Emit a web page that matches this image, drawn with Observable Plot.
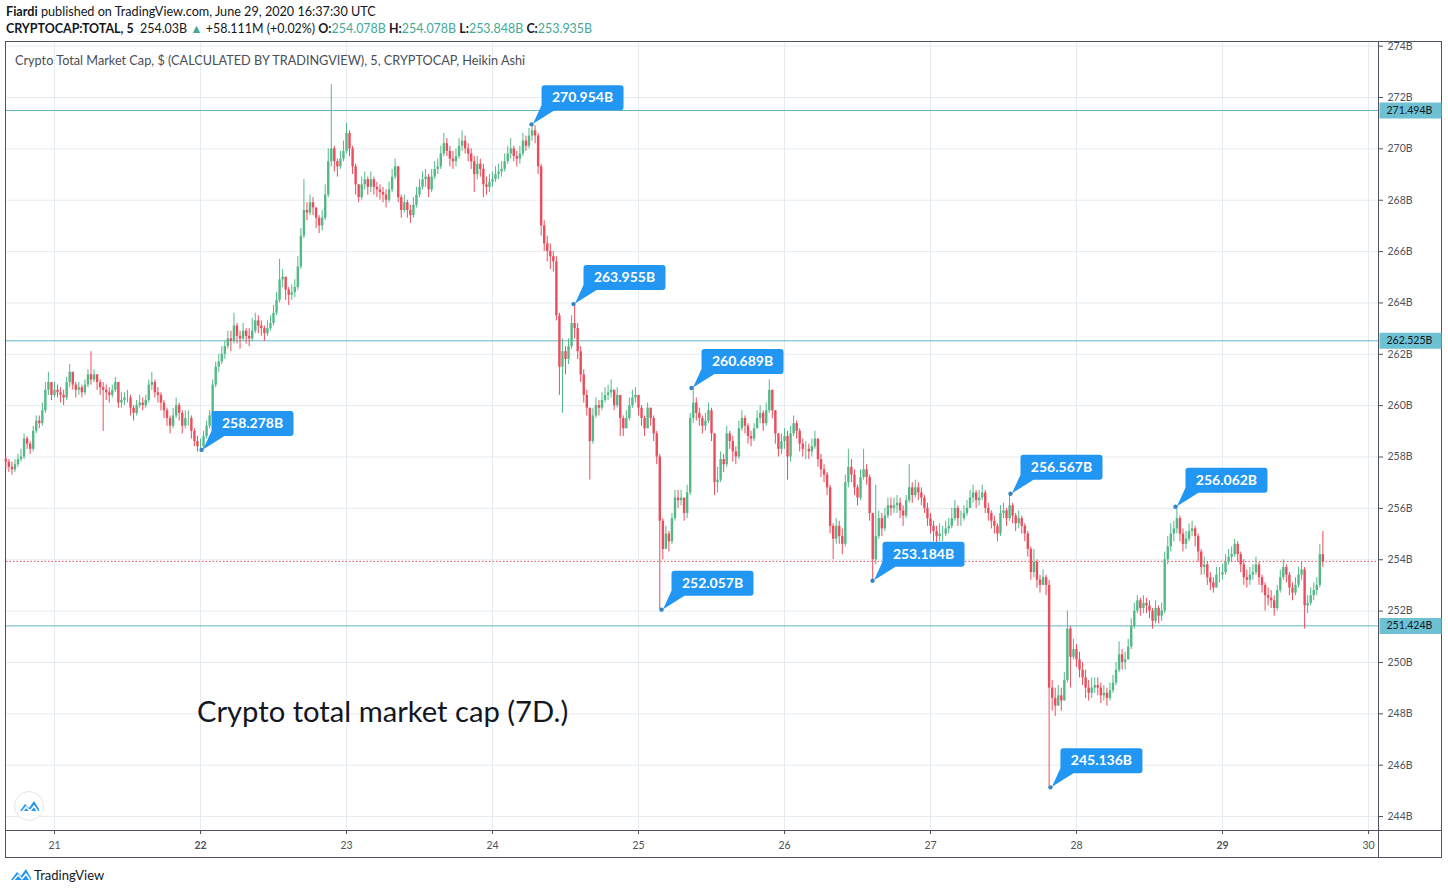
<!DOCTYPE html>
<html><head><meta charset="utf-8">
<script src="https://cdn.jsdelivr.net/npm/d3@7"></script>
<script src="https://cdn.jsdelivr.net/npm/@observablehq/plot@0.6"></script>
<style>
html,body{margin:0;padding:0;background:#fff;}
body{width:1448px;height:894px;overflow:hidden;position:relative;font-family:Lato,"Noto Sans",sans-serif;color:#131722;}
.abs{position:absolute;white-space:nowrap;}
#h1{left:6px;top:5px;font-size:12.65px;line-height:14px;}
#h2{left:6px;top:22px;font-size:12.45px;line-height:14px;}
.g{color:#3fa99a;}
#frame{position:absolute;left:5px;top:41px;width:1437px;height:817px;box-sizing:border-box;border:1px solid #50535e;}
#chart{position:absolute;left:6px;top:42px;}
#sepV{position:absolute;left:1378px;top:42px;width:1px;height:815px;background:#50535e;}
#sepH{position:absolute;left:6px;top:830px;width:1435px;height:1px;background:#50535e;}
#legend{left:15px;top:53px;font-size:12.7px;line-height:14px;color:#4a4e57;}
#note{left:197px;top:693px;font-size:29.2px;line-height:35px;color:#131722;}
#footer{left:34px;top:867px;font-size:13px;line-height:16px;color:#131722;}
#logoCircle{position:absolute;left:14px;top:791px;width:30px;height:30px;border-radius:50%;border:1px solid #e3e6ec;background:#fff;box-sizing:border-box;}
</style></head>
<body>
<div id="h1" class="abs"><b>Fiardi</b> published on TradingView.com, June 29, 2020 16:37:30 UTC</div>
<div id="h2" class="abs"><b>CRYPTOCAP:TOTAL, 5</b>&nbsp; 254.03B <span class="g">▲</span> +58.111M (+0.02%) <b>O:</b><span class="g">254.078B</span> <b>H:</b><span class="g">254.078B</span> <b>L:</b><span class="g">253.848B</span> <b>C:</b><span class="g">253.935B</span></div>
<div id="frame"></div>
<div id="chart"></div>
<div id="sepV"></div>
<div id="sepH"></div>
<div id="legend" class="abs">Crypto Total Market Cap, $ (CALCULATED BY TRADINGVIEW), 5, CRYPTOCAP, Heikin Ashi</div>
<div id="note" class="abs">Crypto total market cap (7D.)</div>
<div id="logoCircle"><svg width="28" height="28" viewBox="0 0 28 28"><path d="M5 19 L10 12 L14 16 L19 9 L24 17 L24 19 Z" fill="#2196f3"/><path d="M7 20 L11 15 L15 19 L19 14 L23 20" fill="none" stroke="#fff" stroke-width="1.6"/></svg></div>
<svg class="abs" style="left:10px;top:866px" width="22" height="16" viewBox="0 0 22 16"><path d="M1 14 L7 6 L11 10 L16 3 L21 12 L21 14 Z" fill="#2196f3"/><path d="M3 15 L8 9 L12 13 L16 8 L20 14" fill="none" stroke="#fff" stroke-width="1.5"/></svg>
<div id="footer" class="abs">TradingView</div>
<script>
// ---- data: 30-minute Heikin Ashi candles, June 20 16:00 UTC .. June 29 16:30 UTC (values in billions $)
const closeB = [
257.8,257.6,257.5,257.7,257.9,258.0,258.7,258.5,258.3,259.0,259.4,259.3,259.8,260.6,260.9,260.4,
260.6,260.5,260.4,260.3,260.9,261.3,260.8,260.6,260.7,260.5,260.8,261.2,261.0,261.2,260.9,260.7,
260.6,260.5,260.4,260.6,260.9,260.1,260.2,260.3,260.3,259.9,259.7,260.0,260.1,260.0,260.2,260.8,
260.9,260.5,260.4,260.1,259.8,259.5,259.2,259.6,260.0,259.7,259.2,259.5,259.5,259.0,258.6,258.4,
258.4,258.8,259.2,259.6,260.8,261.5,261.7,262.0,262.3,262.6,262.5,263.1,262.7,262.6,262.9,262.7,
262.6,262.9,263.3,263.1,263.0,262.8,263.0,263.2,263.6,264.1,264.9,265.0,264.5,264.3,264.4,264.6,
265.4,266.6,267.6,267.5,267.9,267.7,267.3,267.0,267.3,268.2,269.5,270.0,269.5,269.3,269.6,269.9,
270.6,270.0,269.3,268.6,268.1,268.6,268.8,268.5,268.8,268.5,268.4,268.3,268.2,268.0,268.4,268.9,
269.3,268.1,267.6,267.9,267.6,267.4,267.8,268.2,268.5,268.8,268.9,268.4,268.9,269.2,269.3,269.8,
270.2,269.9,269.6,269.5,269.7,270.1,270.3,270.0,269.8,269.5,269.0,269.4,269.2,268.6,268.5,268.7,
268.8,269.0,269.1,269.2,269.5,269.8,270.0,269.7,269.6,269.8,270.3,270.1,270.5,270.7,270.5,269.3,
267.0,266.3,266.0,265.8,265.6,263.5,261.5,262.1,261.8,262.3,263.2,263.0,262.1,261.2,260.4,259.9,
258.6,259.6,260.0,259.9,260.2,260.4,260.5,260.6,260.0,260.4,259.5,259.1,259.5,260.0,260.3,260.4,
259.9,259.5,259.1,259.9,259.5,258.9,258.0,255.5,254.4,255.0,254.7,255.6,256.4,256.3,256.4,255.8,
256.6,259.5,260.1,259.7,259.5,259.2,259.4,259.8,258.9,257.0,257.1,257.9,257.7,258.9,258.6,258.2,
258.0,259.1,259.5,259.2,258.8,258.7,259.1,259.5,259.7,259.3,259.8,260.6,259.8,258.9,258.3,258.6,
258.8,258.0,258.9,259.3,259.0,258.5,258.3,258.3,258.2,258.4,258.7,257.9,257.5,257.3,256.8,255.3,
254.8,255.3,254.9,254.6,257.0,257.6,257.3,256.8,256.4,257.2,257.5,257.2,255.8,254.0,254.9,255.6,
255.2,255.7,256.1,256.0,256.1,256.2,255.9,255.7,256.3,256.8,256.5,256.8,256.6,256.4,256.0,255.6,
255.3,255.1,254.9,255.0,255.0,255.2,255.3,255.6,256.0,255.6,255.6,255.8,256.0,256.4,256.6,256.3,
256.4,256.6,256.0,255.8,255.5,255.3,255.0,255.8,255.9,255.6,256.1,255.7,255.4,255.6,255.3,255.0,
254.4,253.5,253.9,253.2,253.0,253.3,253.0,249.0,248.6,248.3,248.7,248.5,249.3,251.3,250.2,250.5,
250.1,249.7,249.4,249.0,248.8,249.0,249.1,249.0,248.7,248.8,248.6,248.9,249.2,249.7,250.3,250.0,
250.1,250.6,251.4,252.0,252.4,252.1,252.3,252.2,252.0,251.6,252.1,251.8,252.0,254.0,254.5,255.0,
255.2,255.6,255.0,254.6,254.8,255.1,255.2,254.9,254.3,253.7,253.8,253.3,253.1,252.9,253.4,253.4,
253.5,253.9,254.1,254.2,254.6,254.2,253.8,253.3,253.2,253.4,253.5,253.8,253.3,253.0,252.6,252.5,
252.4,252.1,252.8,253.3,253.7,253.4,252.9,252.7,253.0,253.4,253.6,252.2,252.3,252.6,252.8,253.0,254.2,253.9
];
const highB = [
258.0,257.9,257.8,257.9,258.1,258.3,258.9,258.8,258.6,259.2,259.6,259.6,260.1,260.9,261.3,260.9,
260.9,260.8,260.7,260.6,261.1,261.6,261.3,260.9,260.9,260.8,261.0,261.4,262.1,261.4,261.2,261.0,
260.9,260.8,260.7,260.8,261.1,260.9,260.5,260.5,260.6,260.4,260.0,260.2,260.4,260.3,260.4,261.0,
261.3,261.0,260.7,260.5,260.2,259.9,259.6,259.9,260.3,260.1,259.8,259.8,259.8,259.6,259.1,258.8,
258.7,259.0,259.4,259.8,261.0,261.7,262.0,262.3,262.5,262.9,262.9,263.6,263.2,262.9,263.2,263.0,
263.0,263.4,263.6,263.5,263.3,263.1,263.3,263.5,263.9,264.4,265.7,265.3,265.0,264.6,264.7,264.9,
265.8,266.9,268.8,267.9,268.2,268.1,267.7,267.4,267.6,268.6,270.0,272.5,270.1,269.6,269.9,270.3,
271.0,270.7,270.1,269.4,268.6,268.9,269.1,268.9,269.1,268.9,268.7,268.6,268.5,268.4,268.7,269.2,
269.6,269.3,268.2,268.2,268.0,267.8,268.1,268.5,268.8,269.1,269.2,269.0,269.2,269.5,269.6,270.1,
270.6,270.4,270.1,269.9,270.0,270.4,270.7,270.5,270.2,270.0,269.7,269.7,269.6,269.4,268.9,269.0,
269.1,269.3,269.4,269.5,269.8,270.1,270.4,270.1,269.9,270.1,270.6,270.5,270.8,270.95,270.9,270.6,
269.4,267.2,266.6,266.3,266.0,265.8,263.6,262.6,262.3,262.6,263.5,263.96,263.2,262.3,261.4,260.6,
259.9,259.9,260.3,260.2,260.5,260.7,260.8,261.0,260.6,260.7,260.4,259.6,259.8,260.3,260.6,260.7,
260.4,260.0,259.6,260.1,259.9,259.6,259.0,258.1,255.6,255.3,255.1,255.8,256.7,256.7,256.7,256.4,
256.9,259.7,260.69,260.3,259.9,259.6,259.7,260.1,259.9,258.9,257.6,258.2,258.1,259.2,259.0,258.8,
258.4,259.4,259.8,259.6,259.3,259.0,259.3,259.8,260.0,259.8,260.1,261.0,260.6,259.8,258.9,258.9,
259.1,259.0,259.2,259.6,259.4,259.1,258.7,258.6,258.5,258.7,259.0,258.6,258.1,257.7,257.4,256.9,
255.4,255.6,255.5,255.2,257.3,258.3,257.9,257.5,256.9,257.5,258.3,257.7,257.3,255.8,256.9,255.9,
255.8,256.0,256.4,256.4,256.4,256.5,256.4,256.1,256.5,257.7,257.0,257.1,257.0,256.8,256.5,256.2,
255.8,255.5,255.3,255.4,255.3,255.5,255.6,256.0,256.3,256.1,255.9,256.1,256.3,256.7,256.9,256.7,
256.7,256.9,256.7,256.2,255.9,255.7,255.4,256.1,256.2,256.0,256.57,256.2,255.8,255.9,255.7,255.4,
255.1,254.5,254.4,254.0,253.4,253.6,253.4,253.2,249.3,249.0,249.1,249.0,249.6,252.0,251.4,250.9,
250.7,250.4,250.0,249.7,249.3,249.4,249.4,249.4,249.2,249.1,249.0,249.2,249.5,250.0,250.8,250.5,
250.4,250.9,251.7,252.3,252.6,252.5,252.6,252.5,252.4,252.1,252.4,252.2,252.3,254.3,254.9,255.4,
255.5,256.06,255.7,255.2,255.1,255.4,255.5,255.3,255.0,254.4,254.1,253.9,253.5,253.3,253.7,253.7,
253.8,254.2,254.4,254.5,254.8,254.7,254.3,254.0,253.6,253.7,253.8,254.1,253.9,253.4,253.1,252.9,
252.8,252.6,253.0,253.6,254.0,253.8,253.5,253.1,253.3,253.7,253.9,253.7,252.6,252.9,253.1,253.3,254.6,255.1
];
const lowB = [
257.5,257.4,257.3,257.4,257.6,257.8,257.9,258.3,258.1,258.2,258.9,259.1,259.2,259.7,260.4,260.2,
260.3,260.3,260.1,260.0,260.2,260.7,260.6,260.3,260.4,260.3,260.4,260.7,260.8,260.9,260.6,260.4,
259.0,260.2,260.1,260.3,260.5,259.9,259.9,260.0,260.1,259.6,259.4,259.6,259.9,259.8,259.9,260.1,
260.6,260.3,260.1,259.8,259.5,259.2,258.9,259.1,259.5,259.4,258.9,259.1,259.2,258.7,258.4,258.2,
258.28,258.3,258.7,259.1,259.5,260.7,261.3,261.6,261.8,262.2,262.1,262.4,262.4,262.2,262.5,262.4,
262.3,262.5,262.8,262.8,262.7,262.5,262.7,262.9,263.1,263.5,264.0,264.6,264.1,263.9,264.1,264.2,
264.5,265.3,266.5,267.2,267.4,267.4,266.9,266.7,266.8,267.2,268.1,269.3,269.1,268.9,269.2,269.5,
269.8,269.7,269.0,268.2,267.9,268.0,268.4,268.2,268.3,268.2,268.1,268.0,267.9,267.7,267.9,268.3,
268.8,267.9,267.3,267.5,267.3,267.1,267.3,267.7,268.1,268.4,268.5,268.1,268.3,268.8,269.0,269.2,
269.7,269.7,269.3,269.2,269.3,269.6,269.9,269.8,269.5,269.2,268.3,268.8,268.9,268.1,268.2,268.3,
268.5,268.7,268.8,268.9,269.1,269.4,269.6,269.5,269.3,269.4,269.7,269.9,270.0,270.3,270.2,269.0,
266.6,266.0,265.6,265.3,265.2,263.3,260.4,259.7,261.2,261.6,262.2,262.6,261.8,260.9,260.1,259.6,
257.1,258.5,259.5,259.6,259.8,260.1,260.2,260.3,259.8,259.9,258.8,258.8,259.1,259.4,259.9,260.1,
259.6,259.2,258.8,259.1,259.2,258.6,257.7,252.06,254.0,254.4,254.3,254.6,255.5,256.0,256.1,255.5,
255.6,256.5,259.3,259.4,259.2,258.9,259.0,259.3,258.6,256.5,256.6,257.0,257.4,257.6,258.3,257.8,
257.7,257.9,259.0,258.9,258.5,258.4,258.6,259.1,259.3,259.0,259.2,259.7,259.5,258.5,258.0,258.1,
258.3,257.1,257.8,258.8,258.7,258.2,258.0,257.9,257.9,258.0,258.3,257.6,257.2,257.0,256.5,255.0,
254.0,254.6,254.6,254.2,254.5,256.8,257.0,256.5,256.1,256.3,257.1,256.9,255.5,253.18,253.8,254.8,
254.9,255.1,255.6,255.7,255.8,255.8,255.6,255.3,255.6,256.2,256.2,256.4,256.3,256.1,255.8,255.3,
255.0,254.7,254.6,254.7,254.7,254.9,255.0,255.2,255.5,255.3,255.3,255.5,255.7,256.0,256.2,256.0,
256.1,256.3,255.8,255.5,255.2,255.0,254.7,254.9,255.6,255.3,255.5,255.4,255.1,255.2,255.0,254.7,
254.1,253.2,253.3,252.9,252.7,253.0,252.6,245.14,248.1,247.9,248.3,248.1,248.8,249.2,249.0,250.1,
249.8,249.4,249.1,248.6,248.5,248.6,248.8,248.7,248.4,248.5,248.3,248.5,248.8,249.1,249.6,249.7,
249.7,250.1,250.5,251.3,251.9,251.8,251.9,251.9,251.7,251.3,251.5,251.5,251.6,251.9,253.8,254.3,
254.7,255.0,254.7,254.3,254.4,254.7,254.9,254.5,253.9,253.4,253.4,253.0,252.8,252.7,252.9,253.1,
253.2,253.4,253.8,253.9,254.1,253.9,253.5,253.0,252.9,253.0,253.2,253.4,253.0,252.7,252.0,252.2,
252.1,251.8,252.0,252.7,253.2,253.1,252.6,252.4,252.6,252.9,253.2,251.3,251.9,252.2,252.4,252.6,252.9,253.7
];
const firstOpen = 257.9;

// axis ticks / labels
const dayLabels = ["21","22","23","24","25","26","27","28","29","30"];
const boldDayLabels = ["22","29"]; // week starts, shown bold
const priceTicks = [244,246,248,250,252,254,256,258,260,262,264,266,268,270,272,274];

// horizontal levels, last price
const levelValues = [271.494, 262.525, 251.424];
const levelLabels = ["271.494B", "262.525B", "251.424B"];
const lastPrice = 253.935;

// callouts (price marks)
const calloutTimes = ["2020-06-22T00:10Z","2020-06-24T06:25Z","2020-06-24T13:19Z","2020-06-25T03:47Z","2020-06-25T08:43Z","2020-06-26T14:28Z","2020-06-27T13:09Z","2020-06-27T19:43Z","2020-06-28T16:16Z"];
const calloutValues = [258.278, 270.954, 263.955, 252.057, 260.689, 253.184, 256.567, 245.136, 256.062];
const calloutLabels = ["258.278B","270.954B","263.955B","252.057B","260.689B","253.184B","256.567B","245.136B","256.062B"];

// ---- build
const DAY = 864e5;
const d21 = Date.UTC(2020, 5, 21);
const startMs = Date.UTC(2020, 5, 20, 16, 0);
const n = Math.min(closeB.length, highB.length, lowB.length);
const candles = d3.range(n).map(i => {
  const c = closeB[i], o = i ? closeB[i - 1] : firstOpen;
  return {t: new Date(startMs + i * 30 * 60e3), o, c, h: Math.max(highB[i], o, c), l: Math.min(lowB[i], o, c), up: c >= o};
});
const dayTicks = dayLabels.map((s, i) => new Date(d21 + i * DAY));
const xDomain = [new Date(d21 - 0.32877 * DAY), new Date(d21 + 9.0685 * DAY)];
const callouts = calloutTimes.map((t, i) => ({t: new Date(t), v: calloutValues[i], label: calloutLabels[i]}));
const levels = levelValues.map((v, i) => ({t: xDomain[1], v, label: levelLabels[i]}));

const GREEN = "#53b987", RED = "#eb4d5c", BLUE = "#2196f3";

const calloutSymbol = {draw(ctx) {
  const x0 = 10, y0 = -39, w = 82, h = 25, r = 3;
  ctx.moveTo(x0 + r, y0);
  ctx.lineTo(x0 + w - r, y0); ctx.arcTo(x0 + w, y0, x0 + w, y0 + r, r);
  ctx.lineTo(x0 + w, y0 + h - r); ctx.arcTo(x0 + w, y0 + h, x0 + w - r, y0 + h, r);
  ctx.lineTo(x0 + 13, y0 + h);
  ctx.lineTo(1.5, -0.5);
  ctx.lineTo(x0, y0 + h - 5);
  ctx.lineTo(x0, y0 + r); ctx.arcTo(x0, y0, x0 + r, y0, r);
  ctx.closePath();
}};
const levelSymbol = {draw(ctx) {
  ctx.moveTo(1, -8); ctx.lineTo(63, -8); ctx.lineTo(63, 8); ctx.lineTo(1, 8); ctx.closePath();
}};

const chart = Plot.plot({
  width: 1435, height: 815,
  marginLeft: 0, marginRight: 63, marginTop: 0, marginBottom: 27,
  style: {fontFamily: "Lato, 'Noto Sans', sans-serif", fontSize: "10.5px", color: "#4c525e", background: "transparent", overflow: "visible"},
  x: {type: "utc", domain: xDomain, ticks: dayTicks, tickFormat: d => dayLabels[dayTicks.findIndex(t => +t === +d)], tickSize: 4, tickPadding: 7, label: null},
  y: {domain: [243.456, 274.142], axis: "right", ticks: priceTicks, tickFormat: d => d + "B", tickSize: 4, tickPadding: 5, label: null},
  marks: [
    Plot.ruleX(dayTicks, {stroke: "#e4ecf1", strokeWidth: 1}),
    Plot.ruleY(priceTicks, {stroke: "#e4ecf1", strokeWidth: 1}),
    Plot.ruleY(levelValues, {stroke: "#62b4c6", strokeWidth: 1}),
    Plot.ruleY([lastPrice], {stroke: "#e2525e", strokeWidth: 1, strokeDasharray: "1.5,2"}),
    Plot.ruleX(candles.filter(d => d.up), {x: "t", y1: "l", y2: "h", stroke: GREEN, strokeWidth: 1}),
    Plot.ruleX(candles.filter(d => !d.up), {x: "t", y1: "l", y2: "h", stroke: RED, strokeWidth: 1}),
    Plot.ruleX(candles.filter(d => d.up), {x: "t", y1: "o", y2: "c", stroke: GREEN, strokeWidth: 2.4}),
    Plot.ruleX(candles.filter(d => !d.up), {x: "t", y1: "o", y2: "c", stroke: RED, strokeWidth: 2.4}),
    Plot.dot(callouts, {x: "t", y: "v", symbol: calloutSymbol, r: 5, fill: BLUE, stroke: "none"}),
    Plot.dot(callouts, {x: "t", y: "v", r: 2.2, fill: "#3b84c4", stroke: "none"}),
    Plot.text(callouts, {x: "t", y: "v", text: "label", dx: 51, dy: -26.5, fill: "#fff", fontWeight: "bold", fontSize: 14, textAnchor: "middle"}),
    Plot.dot(levels, {x: "t", y: "v", symbol: levelSymbol, r: 5, fill: "#6ec1d2", stroke: "none"}),
    Plot.text(levels, {x: "t", y: "v", text: "label", dx: 8, textAnchor: "start", fill: "#131722", fontSize: 10.5})
  ]
});
d3.select(chart).selectAll("text").filter(function() { return boldDayLabels.includes(this.textContent); }).attr("font-weight", "bold");
document.getElementById("chart").appendChild(chart);
</script>
</body></html>
